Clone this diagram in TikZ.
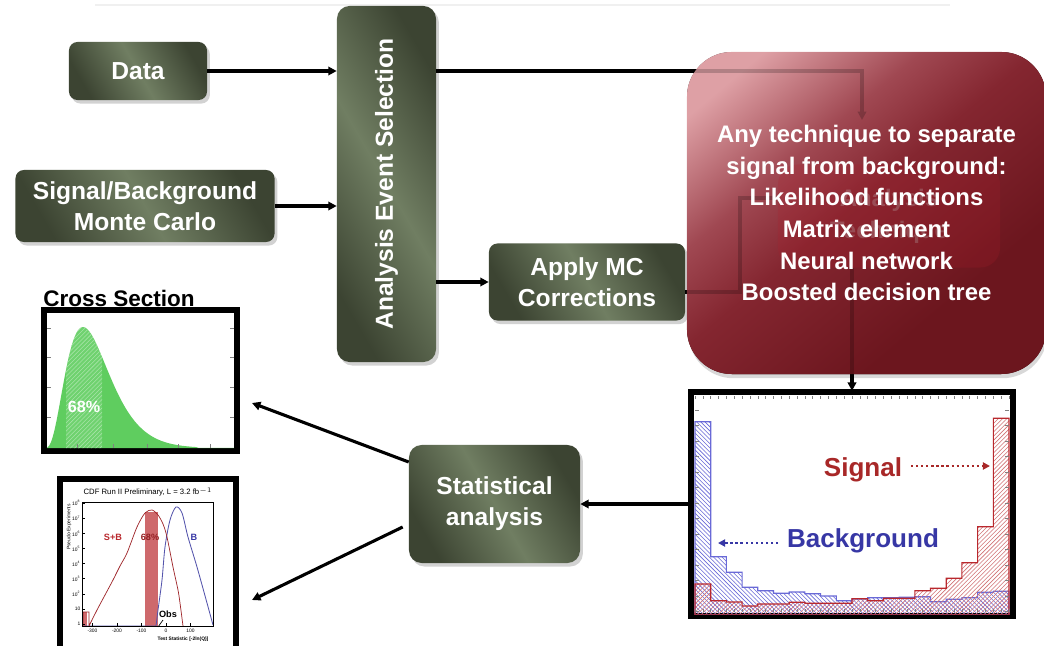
\documentclass[tikz,border=0pt]{standalone}
\usepackage{fontspec}
\setmainfont{Liberation Sans}
\usetikzlibrary{positioning,calc,arrows.meta,shadows,patterns}

\definecolor{olivedark}{RGB}{60,68,50}
\definecolor{olivelight}{RGB}{112,126,98}
\definecolor{techpink}{RGB}{222,160,165}
\definecolor{techupper}{RGB}{160,72,82}
\definecolor{techmid}{RGB}{132,38,48}
\definecolor{techdark}{RGB}{108,22,30}
\definecolor{techhid}{RGB}{175,28,42}
\definecolor{sigred}{RGB}{168,40,40}
\definecolor{bkgblue}{RGB}{55,55,165}
\definecolor{histred}{RGB}{185,40,45}
\definecolor{histblue}{RGB}{105,105,215}
\definecolor{xsecgreen}{RGB}{95,205,95}

\pgfdeclareverticalshading{techshade}{100bp}{color(0bp)=(techdark); color(32bp)=(techdark);
  color(52bp)=(techmid); color(63bp)=(techupper); color(78bp)=(techpink); color(100bp)=(techpink)}

\newcommand{\bxfont}{\fontsize{17.5}{22}\selectfont\bfseries}
\newcommand{\techfont}{\fontsize{17}{22.5}\selectfont\bfseries}
\newcommand{\cdffont}{\fontsize{5.5}{6}\selectfont}
\newcommand{\tickfont}{\fontsize{3.5}{4}\selectfont}

\tikzset{
  greenbox/.style={rounded corners=6pt, left color=olivedark, right color=olivedark,
    middle color=olivelight, shading angle=120, text=white, font=\bxfont, align=center,
    drop shadow={opacity=0.35, shadow xshift=2pt, shadow yshift=-2.5pt}},
  redbox/.style={rounded corners=32pt, shading=techshade, shading angle=40},
  arr/.style={line width=2.2pt, -{Triangle[length=6pt,width=6pt]}},
  dotarr/.style={line width=1.6pt, dotted, -{Triangle[length=5pt,width=5pt]}},
  plotframe/.style={draw, line width=3pt, fill=white},
  minortick/.style={gray, line width=0.4pt}
}

\begin{document}
\begin{tikzpicture}[x=0.025cm, y=-0.025cm]
\useasboundingbox (0,0) rectangle (1044,645);
\fill[white] (0,0) rectangle (1044,645);
\draw[gray!12, line width=1pt] (95,5) -- (950,5);

% flow boxes
\node[greenbox, minimum width=3.45cm, minimum height=1.45cm] (data) at (138,71) {Data};
\node[greenbox, minimum width=6.475cm, minimum height=1.8cm] (mc) at (145,206) {Signal/Background\\Monte Carlo};
\node[greenbox, minimum width=2.475cm, minimum height=8.9cm, rounded corners=9pt] (evsel) at (386.5,184) {};
\node[text=white, font=\bxfont, rotate=90] (evseltext) at (evsel) {Analysis Event Selection};
\node[greenbox, minimum width=4.9cm, minimum height=1.925cm] (apply) at (587,282) {Apply MC\\Corrections};
\node[greenbox, minimum width=4.275cm, minimum height=2.95cm, rounded corners=9pt] (stat) at (494.5,504) {Statistical\\analysis};

% output plot frames
\node[plotframe, minimum width=8cm, minimum height=5.55cm] (hist) at (852,504) {};
\node[plotframe, minimum width=4.775cm, minimum height=3.475cm] (xsec) at (140.5,380.5) {};
\node[plotframe, line width=2.5pt, minimum width=4.35cm, minimum height=4.25cm] (cdf) at (148,565) {};

\draw[arr] (data.east) -- (data.east -| evsel.west);
\draw[arr] (mc.east) -- (mc.east -| evsel.west);
\draw[arr] (evsel.east |- apply.west) -- (apply.west);

% technique box, seen through the overlay
\fill[redbox, drop shadow={opacity=0.3, shadow xshift=1pt, shadow yshift=-3pt}] (687,52) rectangle (1046,374);
\node[rounded corners=14pt, fill=techhid, text=white!80!techpink, font=\techfont, align=center,
  minimum width=5.55cm, minimum height=2.575cm] (tech) at (889,216) {Analysis\\Technique};
\coordinate (techin) at (862,120);
\coordinate (tbend) at (740,198);
\draw[arr] (evsel.east |- data.east) -| (techin);
\draw[line width=2.2pt] ($(apply.east)+(0,10)$) -| (tbend) -- (tbend -| tech.west);
\draw[arr] (tech.south -| hist.north) -- (hist.north);

\node[redbox, fill opacity=0.8, text opacity=1, text=white, font=\techfont, align=center,
  minimum width=8.975cm, minimum height=8.05cm] (method) at (866.5,213)
  {Any technique to separate\\signal from background:\\Likelihood functions\\Matrix element\\Neural network\\Boosted decision tree};

% discriminant histogram
\draw[histblue, line width=0.8pt, pattern=north west lines, pattern color=histblue] (695,615)
  \foreach \h [count=\i from 0] in {421.7,556.7,572.3,587.3,590.7,593.3,592,593.7,596,600.7,599,597.7,597.7,597.3,596.7,601.7,599.3,597.7,592.3,591.3}
  { -- ({695+15.7*\i},\h) -- ({710.7+15.7*\i},\h) } -- (1009,615) -- cycle;
\draw[histred, line width=0.8pt, pattern=north east lines, pattern color=histred!65] (695,615)
  \foreach \h [count=\i from 0] in {584,600.7,602,606,604,604,602.3,603.3,603.3,603.3,598.7,600.7,598.3,598.3,590.7,588.3,578.3,562.7,526.7,418.3}
  { -- ({695+15.7*\i},\h) -- ({710.7+15.7*\i},\h) } -- (1009,615) -- cycle;
\foreach \i in {0,...,40} {
  \draw[minortick] ({695+7.85*\i},396) -- ++(0,3);
  \draw[minortick] ({695+7.85*\i},612) -- ++(0,-3);
}
\foreach \j in {0,...,13} {
  \draw[minortick] (695,{410+15.5*\j}) -- ++(4,0);
  \draw[minortick] (1009,{410+15.5*\j}) -- ++(-4,0);
}
\draw[line width=3pt] (hist.north west) rectangle (hist.south east);
\node[text=sigred, font=\fontsize{18.5}{20}\selectfont\bfseries] (siglab) at (863,470) {Signal};
\coordinate (sigtip) at (990,466);
\draw[dotarr, sigred] ($(siglab.east |- sigtip)+(4,0)$) -- (sigtip);
\node[text=bkgblue, font=\fontsize{18.5}{20}\selectfont\bfseries] (bkglab) at (863,541) {Background};
\coordinate (bkgtip) at (718,543);
\draw[dotarr, bkgblue] ($(bkglab.west |- bkgtip)+(-4,0)$) -- (bkgtip);

% cross section plot
\node[anchor=south west, inner sep=0pt, font=\fontsize{16}{18}\selectfont\bfseries] (xsectitle) at (43,307) {Cross Section};
\fill[xsecgreen] (47,448) -- plot[domain=47:234, samples=80, smooth] (\x,{448-121*((\x-45)/38)^3*exp(3*(1-(\x-45)/38))}) -- (234,448) -- cycle;
\begin{scope}
  \clip (47,448) -- plot[domain=47:234, samples=80, smooth] (\x,{448-121*((\x-45)/38)^3*exp(3*(1-(\x-45)/38))}) -- (234,448) -- cycle;
  \fill[white, opacity=0.1] (66,300) rectangle (102,450);
  \fill[pattern=north east lines, pattern color=white!45!xsecgreen] (66,300) rectangle (102,450);
\end{scope}
\foreach \t in {328,357,387,417} {
  \draw[minortick] (47,\t) -- ++(4,0);
  \draw[minortick] (234,\t) -- ++(-4,0);
}
\foreach \t in {77,113,147,178,210}
  \draw[minortick] (\t,448) -- ++(0,-4);
\draw[line width=3pt] (xsec.north west) rectangle (xsec.south east);
\node[text=white, font=\fontsize{11.5}{12}\selectfont\bfseries] (pct) at (84,407) {68\%};

% CDF pseudo-experiment plot
\node[font=\cdffont] (cdftitle) at (148,492) {CDF Run II Preliminary, L = 3.2 fb$^{-1}$};
\fill[histred!70] (145,512) rectangle (158,626);
\fill[histred!70] (83,612) rectangle (87,626);
\draw[histblue!80!black, line width=0.6pt] (84,626) -- (156,626)
  plot[smooth] coordinates {(156,626) (158,610) (162,580) (165,547) (170,520) (176,507) (182,513) (188,537) (197,567) (207,603) (213,625)};
\draw[histred!85!black, line width=0.5pt] (83,626) -- (83,612) -- (89,612) -- (89,626)
  plot[smooth] coordinates {(89,626) (97,610) (105,595) (113,580) (120,566) (127,553) (137,527) (145,513) (152,510) (158,515) (163,524) (167,537) (173,567) (178,590) (180,603) (183,626)};
\draw[line width=0.4pt] (82,502) rectangle (213,626);
\foreach \lab [count=\k from 0] in {1,10,10\textsuperscript{2},10\textsuperscript{3},10\textsuperscript{4},10\textsuperscript{5},10\textsuperscript{6},10\textsuperscript{7},10\textsuperscript{8}} {
  \node[anchor=east, font=\tickfont, inner sep=1pt] at (82,{624-15.1*\k}) {\lab};
  \draw[line width=0.3pt] (82,{624-15.1*\k}) -- ++(3,0);
}
\foreach \v in {-300,-200,-100,0,100} {
  \node[anchor=north, font=\tickfont, inner sep=1pt] at ({166+0.245*\v},627) {\v};
  \draw[line width=0.3pt] ({166+0.245*\v},626) -- ++(0,-3);
}
\node[rotate=90, font=\tickfont] (cdfylab) at (69,527) {Pseudo-Experiments};
\node[font=\tickfont\bfseries] (cdfxlab) at (183,639) {Test Statistic [-2ln(Q)]};
\node[text=histred, font=\fontsize{6.5}{7}\selectfont\bfseries] (sblab) at (113,537) {S+B};
\node[text=histred!80!black, font=\fontsize{6.5}{7}\selectfont\bfseries] (cdfpct) at (150,537) {68\%};
\node[text=bkgblue, font=\fontsize{6.5}{7}\selectfont\bfseries] (blab) at (194,537) {B};
\node[font=\fontsize{6.5}{7}\selectfont\bfseries] (obslab) at (168,614) {Obs};
\draw[line width=0.5pt] (163,620) -- (158,627);
\draw[line width=2.5pt] (cdf.north west) rectangle (cdf.south east);

% statistical analysis outputs
\coordinate (xsecin) at (252,403);
\coordinate (cdfin) at (252,600);
\draw[arr] (hist.west) -- (stat.east);
\draw[arr] ($(stat.west)+(0,-42)$) -- (xsecin);
\draw[arr] ($(stat.west)+(-6,23)$) -- (cdfin);
\end{tikzpicture}
\end{document}
